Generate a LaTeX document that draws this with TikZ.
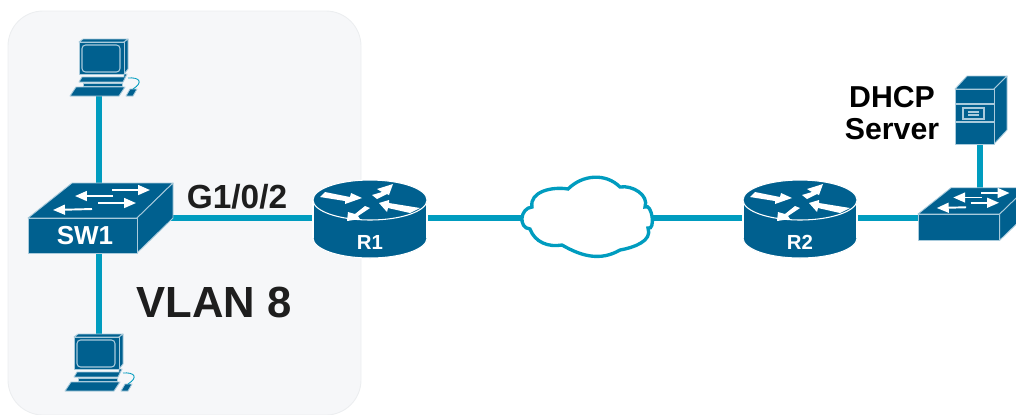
\documentclass[tikz,border=0pt]{standalone}
\usepackage{fontspec}
\setmainfont{Liberation Sans}
\usetikzlibrary{positioning}
\usetikzlibrary{arrows.meta}
\definecolor{devblue}{HTML}{00608F}
\definecolor{linkblue}{HTML}{009CBF}
\definecolor{edgeblue}{HTML}{A9CBDC}
\definecolor{panelgray}{HTML}{F6F7F9}
\definecolor{panelline}{HTML}{ECEEF0}
\definecolor{darktext}{HTML}{1E1E1E}

\begin{document}
\begin{tikzpicture}[x=0.01cm,y=-0.01cm]
\pgfmathsetmacro{\YLK}{218}
\pgfmathsetmacro{\XSW}{99}
\pgfmathsetmacro{\XRA}{370}
\pgfmathsetmacro{\XRB}{800}

\tikzset{
  link/.style={draw=linkblue, line width=1.9pt},
  dev/.style={fill=devblue, draw=edgeblue, line width=0.25pt, line join=round},
  swarrow/.style={draw=white, line width=0.55pt, -{Triangle[length=3.4pt,width=2.8pt]}},
  devlabel/.style={text=white, font=\bfseries\fontsize{#1}{#1}\selectfont, inner sep=0pt},
  textlabel/.style={text=darktext, font=\bfseries\fontsize{#1}{#1}\selectfont, inner sep=0pt, align=center},
  pc/.pic={
    \path[dev] (0,0) -- (4,-3) -- (49,-3) -- (45,0) -- cycle;
    \path[dev] (45,0) -- (49,-3) -- (49,27) -- (45,32) -- cycle;
    \path[dev] (0,0) rectangle (45,32);
    \draw[edgeblue, line width=0.3pt, rounded corners=1pt] (3,3) rectangle (41,30);
    \path[dev] (0,40) -- (44,40) -- (48,32) -- (45,32) -- (45,35) -- (3,35) -- cycle;
    \path[dev] (4,41) rectangle (43,44);
    \path[dev] (-9,54) -- (40,54) -- (46,45) -- (-3,45) -- cycle;
    \path[dev] (47,54) -- (54,54) -- (58,47) -- (51,47) -- cycle;
    \draw[linkblue, line width=0.25pt] (49,36) .. controls (60,35) and (65,40) .. (54,47);
  },
  switchbox/.pic={
    \path[dev] (0,0) -- (44,-35) -- (145,-35) -- (109,0) -- cycle;
    \path[dev] (109,0) -- (145,-35) -- (145,0) -- (109,35) -- cycle;
    \path[dev] (0,0) rectangle (109,35);
    \draw[swarrow] (84,-28) -- (122,-28);
    \draw[swarrow] (85,-22) -- (47,-22);
    \draw[swarrow] (70,-15) -- (108,-15);
    \draw[swarrow] (64,-9) -- (25,-8);
  },
  router/.pic={
    \path[fill=devblue, draw=white, line width=0.3pt] (0,38) ellipse [x radius=57, y radius=20];
    \path[fill=devblue] (-57,0) rectangle (57,38);
    \draw[white, line width=0.3pt] (-57,0) -- (-57,38) (57,0) -- (57,38);
    \path[fill=devblue, draw=white, line width=0.3pt] (0,0) ellipse [x radius=57, y radius=20];
    \fill[white] (-45,-8) -- (-20,-3) -- (-19,-7) -- (-8,-2) -- (-25,4) -- (-25,1) -- (-50,-3) -- cycle;
    \fill[white] (23,-16) -- (7,-11) -- (12,-8) -- (2,-5) -- (7,-1) -- (17,-6) -- (19,-5) -- cycle;
    \fill[white] (9,3) -- (19,0) -- (19,3) -- (50,8) -- (40,13) -- (18,8) -- (17,12) -- cycle;
    \fill[white] (-23,21) -- (-22,12) -- (-15,14) -- (-5,6) -- (0,8) -- (-12,16) -- (-10,19) -- cycle;
  },
  serverbox/.pic={
    \path[dev] (0,0) -- (12,-13) -- (52,-13) -- (39,0) -- cycle;
    \path[dev] (39,0) -- (52,-13) -- (52,41) -- (39,55) -- cycle;
    \path[dev] (0,0) rectangle (39,55);
    \draw[edgeblue, line width=0.3pt] (0,15) -- (39,15) (0,33) -- (39,33);
    \draw[edgeblue, line width=0.3pt] (8,19) rectangle (29,30);
    \draw[edgeblue, line width=0.3pt] (13,23) -- (24,23) (13,26) -- (24,26);
  },
}

\path[use as bounding box] (0,0) rectangle (1016,414);
\path[fill=panelgray, draw=panelline, line width=0.25pt, rounded corners=0.35cm] (8,11) rectangle (361,415);

\coordinate (pca) at (\XSW, 90);
\coordinate (pcb) at (\XSW, 340);
\coordinate (sw1) at (\XSW, \YLK);
\coordinate (r1) at (\XRA, \YLK);
\coordinate (cloud) at (587, \YLK);
\coordinate (r2) at (\XRB, \YLK);
\coordinate (sw2) at (980, \YLK);
\coordinate (srv) at (980, 130);

\draw[link] (pca) -- (sw1);
\draw[link] (sw1) -- (pcb);
\draw[link] (sw1) -- (r1);
\draw[link] (r1) -- (cloud);
\draw[link] (cloud) -- (r2);
\draw[link] (r2) -- (sw2);
\draw[link] (sw2) -- (srv);

\pic at (79,42) {pc};
\pic at (74,337) {pc};
\pic at (28,218) {switchbox};
\pic at (918,214) [scale=0.75] {switchbox};
\pic at (\XRA,200) {router};
\pic at (\XRB,200) {router};
\pic at (955,89) {serverbox};

\path[fill=white, draw=linkblue, line width=0.95pt]
  (532,207) to[out=100,in=170] (568,189)
  to[out=45,in=135] (620,187)
  to[out=10,in=70] (645,207)
  to[out=30,in=-20] (648,228)
  to[out=-70,in=10] (620,250)
  to[out=-150,in=-30] (562,245)
  to[out=190,in=-70] (530,229)
  to[out=175,in=185,looseness=1.4] cycle;

\node[devlabel=7.4pt] (sw1label) at (85,236) {SW1};
\node[devlabel=5.8pt] (r1label) at (\XRA,242) {R1};
\node[devlabel=5.8pt] (r2label) at (\XRB,242) {R2};
\node[textlabel=9.5pt] (glabel) at (237,197) {G1/0/2};
\node[textlabel=12.4pt] (vlan) at (214,302) {VLAN 8};
\node[textlabel=8.6pt, text=black] (dhcp) at (892,113) {DHCP\\[0.7pt]Server};
\end{tikzpicture}
\end{document}
